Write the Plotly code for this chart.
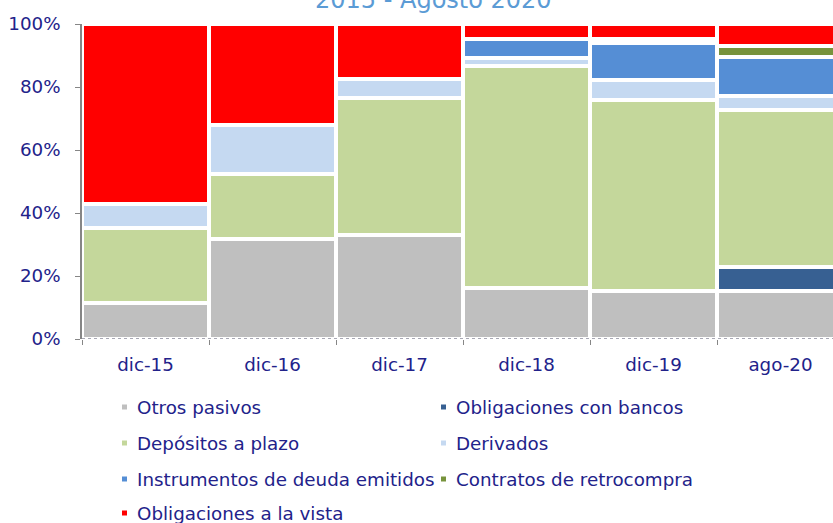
import plotly.graph_objects as go

categories = ["dic-15", "dic-16", "dic-17", "dic-18", "dic-19", "ago-20"]
otros_pasivos = [11.5, 31.7, 33.1, 16.3, 15.3, 15.3]
oblig_bancos = [0, 0, 0, 0, 0, 7.6]
depositos_plazo = [23.7, 20.8, 43.3, 70.4, 60.6, 49.7]
derivados = [7.8, 15.4, 6.2, 2.4, 6.2, 4.5]
instrumentos_deuda = [0, 0, 0, 6.1, 11.9, 12.5]
contratos_retrocompra = [0, 0, 0, 0, 1.3, 3.4]
oblig_vista = [57.0, 32.1, 17.4, 4.8, 4.7, 7.0]

series_names = ["Otros pasivos", "Obligaciones con bancos", "Depósitos a plazo", "Derivados",
                "Instrumentos de deuda emitidos", "Contratos de retrocompra", "Obligaciones a la vista"]
series_values = [otros_pasivos, oblig_bancos, depositos_plazo, derivados,
                 instrumentos_deuda, contratos_retrocompra, oblig_vista]
series_colors = ["#BFBFBF", "#376092", "#C4D79B", "#C5D9F1", "#558ED5", "#77933C", "#FF0000"]
y_ticks = [0, 20, 40, 60, 80, 100]
y_tick_labels = [f"{v}%" for v in y_ticks]
title_text = "2015 - Agosto 2020"

FONT = "DejaVu Sans"
TXT = "#22228A"
W, H = 833, 523
L, R, T, B = 82, 0, 24, 184
PW, PH = W - L - R, H - T - B
CAT_PX = 127.0

def px_x(p):
    return (p - L) / PW

def px_y(p):
    return (H - B - p) / PH

fig = go.Figure()
for name, vals, col in zip(series_names, series_values, series_colors):
    fig.add_trace(go.Bar(
        x=categories, y=vals, name=name,
        marker=dict(color=col, line=dict(color="white", width=4)),
        showlegend=False,
    ))

# dotted baseline (x axis line)
fig.add_shape(type="line", xref="paper", yref="y", x0=0, x1=1, y0=0, y1=0,
              line=dict(color="#8C8C9C", width=1.5, dash="dot"), layer="above")

# title (only lower line visible)
fig.add_annotation(text=title_text, xref="paper", yref="paper",
                   x=px_x(433), y=1, yanchor="bottom", xanchor="center", yshift=8,
                   showarrow=False, font=dict(family=FONT, size=24, color="#5B9BD5"))

# legend, two columns
col_text_x = [136, 455]
row_y = [407, 443, 479, 513]
for i, (name, col) in enumerate(zip(series_names, series_colors)):
    r, c = divmod(i, 2)
    tx = col_text_x[c]
    ty = row_y[r]
    fig.add_shape(type="rect", xref="paper", yref="paper",
                  x0=px_x(tx - 14), x1=px_x(tx - 9), y0=px_y(ty + 2.5), y1=px_y(ty - 2.5),
                  fillcolor=col, line=dict(width=0))
    fig.add_annotation(text=name, xref="paper", yref="paper", x=px_x(tx - 1), y=px_y(ty),
                       xanchor="left", yanchor="middle", showarrow=False,
                       font=dict(family=FONT, size=18.3, color=TXT))

fig.update_layout(
    width=W, height=H,
    margin=dict(l=L, r=R, t=T, b=B),
    barmode="stack", bargap=0,
    paper_bgcolor="white", plot_bgcolor="white",
    showlegend=False,
    font=dict(family=FONT, size=18.3, color=TXT),
)
fig.update_xaxes(
    range=[-0.5, -0.5 + PW / CAT_PX],
    tickson="boundaries", ticks="outside", ticklen=5, tickcolor="#868686",
    showline=False, showgrid=False, ticklabelstandoff=13,
    tickfont=dict(family=FONT, size=18.3, color=TXT),
)
fig.update_yaxes(
    range=[0, 100], tickmode="array", tickvals=y_ticks, ticktext=y_tick_labels,
    ticks="outside", ticklen=5, tickcolor="#868686",
    showline=True, linecolor="#868686", linewidth=1.5,
    showgrid=False, zeroline=False, ticklabelstandoff=11,
    tickfont=dict(family=FONT, size=18.3, color=TXT),
)

fig.write_html("out.html", config={"displayModeBar": False},
               post_script="document.body.style.margin='0';")
